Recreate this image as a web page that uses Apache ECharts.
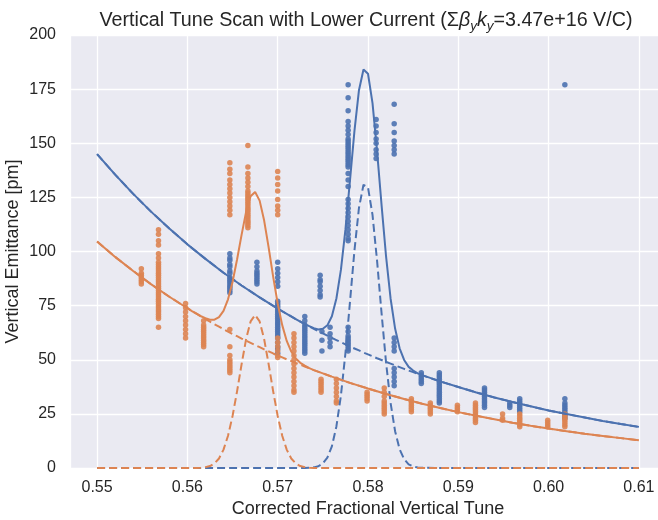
<!DOCTYPE html>
<html>
<head>
<meta charset="utf-8">
<script src="https://cdn.jsdelivr.net/npm/echarts@6/dist/echarts.min.js"></script>
<style>html,body{margin:0;padding:0;background:#fff;}#c{width:658px;height:520px;}</style>
</head>
<body>
<div id="c"></div>
<script>
// ---- Axis ticks ----
const xTicks = [0.55, 0.56, 0.57, 0.58, 0.59, 0.60, 0.61];
const yTicks = [0, 25, 50, 75, 100, 125, 150, 175, 200];

// ---- Scatter measurements (tune columns and the emittance values seen at each) ----
const blueTunes = [0.5647, 0.5677, 0.5700, 0.5730, 0.5747, 0.5749, 0.5758, 0.5778, 0.5809, 0.5829, 0.5859, 0.5879, 0.5929, 0.5957, 0.5968, 0.6018];
const blueValues = [
  [99, 97, 96, 94, 93, 91, 90, 88, 87, 86, 85, 84, 83, 82, 81],
  [95, 93, 91, 90, 89, 88, 87, 86, 85],
  [95, 92, 90, 88, 86, 84, 77, 76, 75, 74, 73, 72, 71, 70, 69, 68, 67, 66, 65, 64, 63, 62, 61, 60, 58, 56, 55, 53],
  [70, 68, 66, 65, 64, 63, 62, 61, 60, 59, 58, 57, 56, 55, 54, 53],
  [89, 87, 86, 84, 82, 80, 79],
  [63, 59, 54],
  [65, 62, 60, 58, 56],
  [177, 171, 165, 160, 158, 156, 154, 152, 151, 150, 149, 148, 147, 146, 145, 144, 143, 142, 141, 140, 139, 136, 133, 130, 124, 122, 120, 118, 116, 114, 112, 110, 108, 106, 105, 65, 63, 61, 60, 59, 58, 57, 56, 55, 54],
  [161, 158, 155, 152, 150, 147, 145, 143],
  [168, 159, 155, 151, 149, 147, 145, 60, 58, 56, 54, 46, 44, 42, 40, 38],
  [44, 43, 42, 41, 40, 39],
  [44, 43, 42, 41, 40, 39, 38, 37, 36, 35, 34, 33, 32, 31, 30],
  [37, 36, 35, 34, 33, 32, 31, 30, 29, 28],
  [30, 29, 28],
  [32, 31, 30, 29, 28, 27, 26],
  [177, 32, 30, 29, 28, 27, 26, 25, 24, 23]
];
const orangeTunes = [0.5549, 0.5568, 0.5598, 0.5618, 0.5647, 0.5667, 0.5700, 0.5718, 0.5748, 0.5765, 0.5799, 0.5818, 0.5848, 0.5869, 0.5899, 0.5919, 0.5949, 0.5968, 0.5999, 0.6018];
const orangeValues = [
  [92, 90, 89, 88, 87, 86, 85],
  [110, 108, 105, 103, 99, 97, 95, 94, 93, 92, 91, 90, 89, 88, 87, 86, 85, 84, 83, 82, 81, 80, 79, 78, 77, 76, 75, 74, 73, 72, 71, 70, 69, 65],
  [76, 74, 72, 70, 68, 66, 64, 62, 60],
  [68, 66, 65, 64, 63, 62, 61, 60, 59, 58, 57, 56],
  [141, 138, 136, 133, 131, 129, 127, 125, 123, 121, 119, 117, 64, 56, 52, 50, 49, 48, 47, 46, 45, 44],
  [149, 139, 136, 134, 132, 130, 128, 127, 126, 125, 124, 123, 122, 121, 120, 119, 118, 117, 116, 115, 114, 113, 112, 111],
  [137, 134, 131, 128, 124, 121, 119, 117, 60, 58, 56, 54, 52, 51],
  [62, 60, 58, 56, 54, 52, 50, 48, 46, 44, 42, 40, 38, 36, 35],
  [41, 40, 39, 38, 37, 36, 35],
  [41, 39, 37, 35, 33, 31, 30],
  [35, 34, 33, 32, 31],
  [37, 35, 33, 31, 30, 29, 28, 27, 26, 25],
  [32, 31, 30, 29, 28, 27, 26],
  [30, 29, 28, 27, 26, 25],
  [29, 28, 27, 26],
  [30, 29, 28, 27, 26, 25, 24, 23, 22, 21],
  [25, 23, 22],
  [25, 24, 23, 22, 21, 20, 19],
  [22, 21, 20, 19],
  [25, 24, 23, 22, 21, 20, 19]
];

// ---- Fit curves ----
const blueFitTune = [0.550, 0.552, 0.554, 0.556, 0.558, 0.560, 0.562, 0.564, 0.566, 0.568, 0.570, 0.572, 0.573,
  0.5735, 0.5740, 0.5745, 0.5750, 0.5755, 0.5760, 0.5765, 0.5770, 0.5775, 0.5780, 0.5785, 0.5790, 0.5795, 0.5800, 0.5805, 0.5810, 0.5815, 0.5820, 0.5825, 0.5830, 0.5835, 0.5840, 0.5845, 0.5850, 0.5855, 0.5860,
  0.588, 0.590, 0.592, 0.594, 0.596, 0.598, 0.600, 0.602, 0.604, 0.606, 0.608, 0.610];
const blueFitTotal = [145.0, 135.5, 126.6, 118.3, 110.6, 103.3, 96.6, 90.2, 84.3, 78.8, 73.6, 68.8, 66.5,
  65.5, 64.6, 64.0, 64.3, 65.9, 70.1, 78.3, 91.5, 110.1, 132.6, 155.7, 174.5, 184.1, 182.1, 168.5, 146.6, 121.5, 97.7, 78.3, 64.4, 55.3, 49.9, 46.7, 45.0, 43.7, 42.9,
  40.0, 37.4, 34.9, 32.6, 30.5, 28.5, 26.6, 24.9, 23.3, 21.7, 20.3, 19.0];
const blueFitBase = [145.0, 135.5, 126.6, 118.3, 110.6, 103.3, 96.6, 90.2, 84.3, 78.8, 73.6, 68.8, 66.5,
  65.4, 64.3, 63.2, 62.2, 61.1, 60.1, 59.1, 58.1, 57.1, 56.1, 55.2, 54.3, 53.3, 52.5, 51.6, 50.7, 49.9, 49.0, 48.2, 47.4, 46.6, 45.8, 45.0, 44.3, 43.5, 42.8,
  40.0, 37.4, 34.9, 32.6, 30.5, 28.5, 26.6, 24.9, 23.3, 21.7, 20.3, 19.0];
const blueFitPeak = [0, 0, 0, 0, 0, 0, 0, 0, 0, 0, 0, 0, 0,
  0.1, 0.3, 0.8, 2.1, 4.8, 10.0, 19.2, 33.4, 53.0, 76.5, 100.5, 120.2, 130.8, 129.6, 116.9, 95.9, 71.6, 48.7, 30.1, 17.0, 8.7, 4.1, 1.7, 0.7, 0.2, 0.1,
  0, 0, 0, 0, 0, 0, 0, 0, 0, 0, 0, 0];

const orangeFitTune = [0.550, 0.552, 0.554, 0.556, 0.558, 0.560,
  0.5605, 0.5610, 0.5615, 0.5620, 0.5625, 0.5630, 0.5635, 0.5640, 0.5645, 0.5650, 0.5655, 0.5660, 0.5665, 0.5670, 0.5675, 0.5680, 0.5685, 0.5690, 0.5695, 0.5700, 0.5705, 0.5710, 0.5715, 0.5720, 0.5725, 0.5730, 0.5735, 0.5740,
  0.576, 0.578, 0.580, 0.582, 0.584, 0.586, 0.588, 0.590, 0.592, 0.594, 0.596, 0.598, 0.600, 0.602, 0.604, 0.606, 0.608, 0.610];
const orangeFitTotal = [104.6, 97.5, 91.0, 84.8, 79.1, 73.8,
  72.5, 71.3, 70.1, 69.2, 68.5, 68.5, 69.7, 72.6, 77.9, 85.9, 96.3, 107.7, 118.3, 125.5, 127.5, 123.5, 114.3, 101.8, 88.3, 76.0, 66.0, 58.7, 53.8, 50.6, 48.6, 47.3, 46.1, 45.2,
  42.2, 39.3, 36.7, 34.2, 31.9, 29.7, 27.7, 25.8, 24.1, 22.5, 20.9, 19.5, 18.2, 17.0, 15.8, 14.8, 13.8, 12.8];
const orangeFitBase = [104.6, 97.5, 91.0, 84.8, 79.1, 73.8,
  72.5, 71.3, 70.0, 68.8, 67.6, 66.4, 65.3, 64.1, 63.0, 61.9, 60.9, 59.8, 58.8, 57.8, 56.8, 55.8, 54.8, 53.9, 52.9, 52.0, 51.1, 50.2, 49.4, 48.5, 47.7, 46.9, 46.0, 45.2,
  42.2, 39.3, 36.7, 34.2, 31.9, 29.7, 27.7, 25.8, 24.1, 22.5, 20.9, 19.5, 18.2, 17.0, 15.8, 14.8, 13.8, 12.8];
const orangeFitPeak = [0, 0, 0, 0, 0, 0,
  0.0, 0.0, 0.1, 0.4, 0.9, 2.1, 4.4, 8.5, 14.9, 24.0, 35.4, 47.9, 59.5, 67.7, 70.7, 67.7, 59.5, 47.9, 35.4, 24.0, 14.9, 8.5, 4.4, 2.1, 0.9, 0.4, 0.1, 0.0,
  0, 0, 0, 0, 0, 0, 0, 0, 0, 0, 0, 0, 0, 0, 0, 0, 0, 0];

// ---- Style ----
const BLUE = '#4C72B0';
const ORANGE = '#DD8452';
const TXT = '#262626';
const FONT = '"Liberation Sans", Arial, sans-serif';

function columnsToPoints(tunes, cols) {
  const pts = [];
  tunes.forEach((t, i) => cols[i].forEach(v => pts.push([t, v])));
  return pts;
}
function zipXY(xs, ys) { return xs.map((x, i) => [x, ys[i]]); }

const chart = echarts.init(document.getElementById('c'), null, {renderer: 'canvas'});

function scatter(data, color) {
  return {type: 'scatter', data: data, symbol: 'circle', symbolSize: 5.5, z: 2,
    itemStyle: {color: color, opacity: 0.9}, silent: true};
}
function line(data, color, dashed) {
  return {type: 'line', data: data, showSymbol: false, smooth: false, z: 3, clip: true,
    lineStyle: {color: color, width: 2, type: dashed ? [8, 4] : 'solid'}, silent: true};
}

chart.setOption({
  animation: false,
  backgroundColor: '#ffffff',
  title: {
    text: '{n|Vertical Tune Scan with Lower Current (Σ}{i|β}{s|y}{i|k}{s|y}{n|=3.47e+16 V/C)}',
    left: 361, top: 4, textAlign: 'center',
    textStyle: {
      fontWeight: 'normal',
      rich: {
        n: {fontFamily: FONT, fontSize: 19.7, fontWeight: 'normal', color: TXT, lineHeight: 24, verticalAlign: 'middle'},
        i: {fontFamily: FONT, fontSize: 19.7, fontWeight: 'normal', color: TXT, fontStyle: 'italic', lineHeight: 24, verticalAlign: 'middle'},
        s: {fontFamily: FONT, fontSize: 13.5, fontWeight: 'normal', color: TXT, fontStyle: 'italic', lineHeight: 13, verticalAlign: 'bottom'}
      }
    }
  },
  grid: {left: 70, top: 35, width: 596, height: 433, show: true, backgroundColor: '#EAEAF2', borderWidth: 0,
    containLabel: false, outerBoundsMode: 'none'},
  xAxis: {
    type: 'value', min: 0.547, max: 0.613,
    name: 'Corrected Fractional Vertical Tune', nameLocation: 'middle', nameGap: 32, nameMoveOverlap: false,
    nameTextStyle: {fontFamily: FONT, fontSize: 18, color: TXT},
    axisLine: {show: false}, axisTick: {show: false},
    axisLabel: {fontFamily: FONT, fontSize: 16, color: TXT, margin: 12, showMinLabel: false, showMaxLabel: false,
      formatter: v => { const m = xTicks.find(t => Math.abs(t - v) < 1e-6); return m === undefined ? '' : m.toFixed(2); }},
    splitLine: {show: true, lineStyle: {color: '#ffffff', width: 1.3}}
  },
  yAxis: {
    type: 'value', min: yTicks[0], max: yTicks[yTicks.length - 1], interval: yTicks[1] - yTicks[0],
    name: 'Vertical Emittance [pm]', nameLocation: 'middle', nameGap: 48, nameMoveOverlap: false,
    nameTextStyle: {fontFamily: FONT, fontSize: 18, color: TXT},
    axisLine: {show: false}, axisTick: {show: false},
    axisLabel: {fontFamily: FONT, fontSize: 16, color: TXT, margin: 14},
    splitLine: {show: true, lineStyle: {color: '#ffffff', width: 1.3}}
  },
  series: [
    scatter(columnsToPoints(blueTunes, blueValues), BLUE),
    scatter(columnsToPoints(orangeTunes, orangeValues), ORANGE),
    line(zipXY(blueFitTune, blueFitBase), BLUE, true),
    line(zipXY(blueFitTune, blueFitPeak), BLUE, true),
    line(zipXY(blueFitTune, blueFitTotal), BLUE, false),
    line(zipXY(orangeFitTune, orangeFitBase), ORANGE, true),
    line(zipXY(orangeFitTune, orangeFitPeak), ORANGE, true),
    line(zipXY(orangeFitTune, orangeFitTotal), ORANGE, false)
  ]
});
</script>
</body>
</html>
